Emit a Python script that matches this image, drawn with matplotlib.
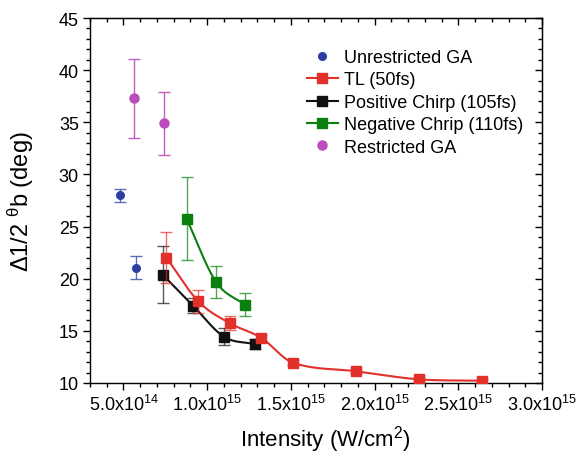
import numpy as np
import matplotlib
matplotlib.use("Agg")
import matplotlib.pyplot as plt
from matplotlib.ticker import MultipleLocator, FixedLocator

plt.rcParams['font.family'] = ['Liberation Sans', 'DejaVu Sans']
plt.rcParams['mathtext.fontset'] = 'custom'
plt.rcParams['mathtext.rm'] = 'Liberation Sans'
plt.rcParams['mathtext.it'] = 'Liberation Sans:italic'
plt.rcParams['mathtext.bf'] = 'Liberation Sans:bold'

# intensities in units of 1e15 W/cm^2
unres_x = [0.48, 0.573]
unres_y = [28.0, 21.05]
unres_err = [0.65, 1.1]

res_x = [0.562, 0.74]
res_y = [37.3, 34.9]
res_err = [3.8, 3.0]

tl_x = [0.756, 0.947, 1.134, 1.323, 1.51, 1.889, 2.267, 2.642]
tl_y = [22.03, 17.83, 15.74, 14.33, 11.96, 11.12, 10.35, 10.22]
tl_err = [2.45, 1.1, 0.65, 0.3, 0.25, 0.2, 0.2, 0.2]

pos_x = [0.734, 0.916, 1.101, 1.286]
pos_y = [20.39, 17.41, 14.43, 13.72]
pos_err = [2.75, 0.7, 0.8, 0.5]

neg_x = [0.877, 1.053, 1.224]
neg_y = [25.75, 19.69, 17.51]
neg_err = [4.0, 1.57, 1.13]

xtick_vals = [0.5, 1.0, 1.5, 2.0, 2.5, 3.0]
xtick_labels = [r'5.0x10$^{14}$', r'1.0x10$^{15}$', r'1.5x10$^{15}$',
                r'2.0x10$^{15}$', r'2.5x10$^{15}$', r'3.0x10$^{15}$']


def hermite_curve(x, y, xs):
	# cubic hermite through the points, slopes from central differences
	x = np.asarray(x, float)
	y = np.asarray(y, float)
	n = len(x)
	h = np.diff(x)
	m = np.zeros(n)
	m[0] = (y[1] - y[0]) / h[0]
	m[-1] = (y[-1] - y[-2]) / h[-1]
	for i in range(1, n - 1):
		m[i] = (y[i + 1] - y[i - 1]) / (x[i + 1] - x[i - 1])
	out = np.empty_like(xs)
	for j, xv in enumerate(xs):
		k = min(max(np.searchsorted(x, xv) - 1, 0), n - 2)
		t = (xv - x[k]) / h[k]
		h00 = 2 * t**3 - 3 * t**2 + 1
		h10 = t**3 - 2 * t**2 + t
		h01 = -2 * t**3 + 3 * t**2
		h11 = t**3 - t**2
		out[j] = h00 * y[k] + h10 * h[k] * m[k] + h01 * y[k + 1] + h11 * h[k] * m[k + 1]
	return out


fig = plt.figure(figsize=(5.78, 4.56), dpi=100)
ax = fig.add_axes([90 / 578, 72 / 456, 452 / 578, 365 / 456])

blue = '#2b3fa3'
red = '#e2302a'
black = '#111111'
green = '#0b800f'
magenta = '#bb4cbb'

def curve_series(x, y, err, color, label, z):
	xs = np.linspace(x[0], x[-1], 300)
	ax.plot(xs, hermite_curve(x, y, xs), color=color, lw=1.5, zorder=z)
	ax.errorbar(x, y, yerr=err, fmt='none', ecolor=color, elinewidth=1.0,
		capsize=4.5, capthick=1.0, alpha=0.7, zorder=z)
	ax.plot(x, y, 's', color=color, ms=6.5, zorder=z + 0.5)
	ax.plot([], [], '-s', color=color, lw=1.5, ms=6.5, label=label)

ax.errorbar(unres_x, unres_y, yerr=unres_err, fmt='none', ecolor=blue,
	elinewidth=1.0, capsize=4.5, capthick=1.0, alpha=0.75, zorder=3)
ax.plot(unres_x, unres_y, 'o', color=blue, ms=5.5, zorder=3.5, label='Unrestricted GA')

curve_series(tl_x, tl_y, tl_err, red, 'TL (50fs)', 4)
curve_series(pos_x, pos_y, pos_err, black, 'Positive Chirp (105fs)', 3)
curve_series(neg_x, neg_y, neg_err, green, 'Negative Chrip (110fs)', 3)

ax.errorbar(res_x, res_y, yerr=res_err, fmt='none', ecolor=magenta,
	elinewidth=1.0, capsize=4.5, capthick=1.0, alpha=0.9, zorder=3)
ax.plot(res_x, res_y, 'o', color=magenta, ms=6.5, zorder=3.5, label='Restricted GA')

ax.set_xlim(0.3, 3.0)
ax.set_ylim(10, 45)
ax.xaxis.set_major_locator(FixedLocator(xtick_vals))
ax.set_xticklabels(xtick_labels)
ax.xaxis.set_minor_locator(MultipleLocator(0.1))
ax.yaxis.set_major_locator(MultipleLocator(5))
ax.yaxis.set_minor_locator(MultipleLocator(1))
ax.tick_params(which='both', direction='out', labelsize=13, width=1.0, pad=3)
ax.tick_params(which='major', length=5)
ax.tick_params(which='minor', length=3)

top = ax.secondary_xaxis('top')
top.xaxis.set_major_locator(FixedLocator(xtick_vals))
top.xaxis.set_minor_locator(MultipleLocator(0.1))
top.tick_params(which='both', direction='in', labeltop=False, width=1.0)
top.tick_params(which='major', length=5)
top.tick_params(which='minor', length=3)
right = ax.secondary_yaxis('right')
right.yaxis.set_major_locator(MultipleLocator(5))
right.yaxis.set_minor_locator(MultipleLocator(1))
right.tick_params(which='both', direction='in', labelright=False, width=1.0)
right.tick_params(which='major', length=5)
right.tick_params(which='minor', length=3)

for sp in ax.spines.values():
	sp.set_linewidth(1.0)

ax.set_xlabel(r'Intensity (W/cm$^{2}$)', fontsize=16)
ax.xaxis.set_label_coords(0.52, -0.11)
ax.set_ylabel(r'$\Delta$1/2 $^{\mathregular{\theta}}$b (deg)', fontsize=17)
ax.yaxis.set_label_coords(-0.12, 0.5)

ax.legend(loc='upper left', bbox_to_anchor=(0.479, 0.915), frameon=False,
	fontsize=13, handlelength=1.75, handletextpad=0.3, labelspacing=0.3,
	borderpad=0, borderaxespad=0)

fig.savefig('out.png', dpi=100)
